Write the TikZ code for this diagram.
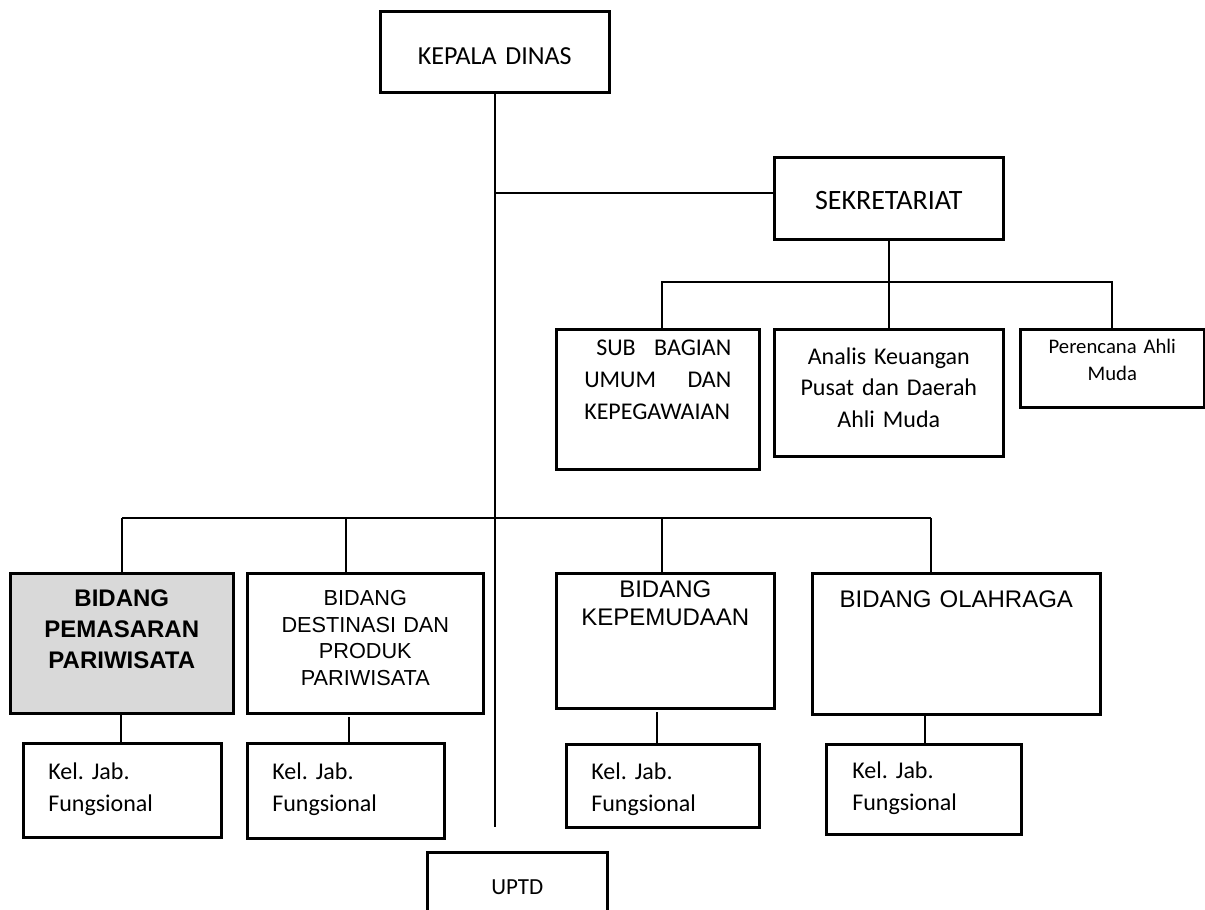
\documentclass[tikz,border=0pt]{standalone}
\usepackage{fontspec}
\setmainfont{Carlito}
\newfontfamily\arialfont{Liberation Sans}
\usepackage{tikz}
\usetikzlibrary{positioning}
\definecolor{pemgray}{HTML}{D9D9D9}
\frenchspacing

\begin{document}
\begin{tikzpicture}[x=1pt,y=-1pt,
  box/.style={draw,line width=2.6pt,anchor=north west,inner xsep=0pt,inner ysep=0pt,align=center},
  kelbox/.style={box,align=left,font=\fontsize{24}{32}\selectfont},
  cal/.style={font=\fontsize{#1}{32}\selectfont},
  ari/.style={font=\arialfont\fontsize{#1}{28}\selectfont},
  link/.style={line width=2pt}]

\clip (0,0) rectangle (1205,910);

%Kepala dinas
\node[box,cal=26,text width=229pt,text height=53.4pt,text depth=27.6pt] (kd) at (379,10) {KEPALA DINAS};

%Sekretariat
\node[box,cal=28,text width=229pt,text height=52pt,text depth=30pt] (sek) at (773,156) {SEKRETARIAT};

\node[box,cal=24,align=left,inner xsep=28pt,text width=147pt,text height=25.7pt,text depth=114.3pt] (sub) at (555,328)
  {\hspace*{12pt}SUB\hfill BAGIAN\\UMUM\hfill DAN\\KEPEGAWAIAN};
\node[box,font=\fontsize{24}{31.5}\selectfont,text width=229pt,text height=34.7pt,text depth=92.3pt] (ana) at (773,328)
  {Analis Keuangan\\Pusat dan Daerah\\Ahli Muda};
\node[box,font=\fontsize{20.7}{27}\selectfont,text width=184pt,text height=24pt,text depth=54pt] (per) at (1019,328)
  {Perencana Ahli\\Muda};

%Bidang
\node[box,fill=pemgray,font=\arialfont\bfseries\fontsize{24}{31}\selectfont,text width=223pt,text height=33.5pt,text depth=106.5pt] (pem) at (9,572)
  {BIDANG\\PEMASARAN\\PARIWISATA};
\node[box,font=\arialfont\fontsize{21.7}{26.5}\selectfont,text width=236pt,text height=32.5pt,text depth=107.5pt] (des) at (246,572)
  {BIDANG\\DESTINASI DAN\\PRODUK\\PARIWISATA};
\node[box,ari=24,text width=218pt,text height=24pt,text depth=111pt] (kep) at (555,572)
  {BIDANG\\KEPEMUDAAN};
\node[box,ari=24,text width=288pt,text height=34pt,text depth=107pt] (olah) at (811,572)
  {BIDANG OLAHRAGA};

%Kel. Jab. Fungsional
\node[kelbox,inner xsep=25pt,text width=148pt,text height=35.7pt,text depth=58.3pt] (kel1) at (22,742) {Kel. Jab.\\Fungsional};
\node[kelbox,inner xsep=25pt,text width=147pt,text height=35.7pt,text depth=59.3pt] (kel2) at (246,742) {Kel. Jab.\\Fungsional};
\node[kelbox,inner xsep=25pt,text width=143pt,text height=35.5pt,text depth=47.5pt] (kel3) at (565,743) {Kel. Jab.\\Fungsional};
\node[kelbox,inner xsep=26pt,text width=143pt,text height=33.7pt,text depth=56.3pt] (kel4) at (825,743) {Kel. Jab.\\Fungsional};

%UPTD
\node[box,cal=23,text width=180pt,text height=41.7pt,text depth=40pt] (uptd) at (426,851) {UPTD};

%garis utama
\coordinate (mainend) at (494,827);
\draw[link] (kd.south) -- (kd.south |- mainend);

\coordinate (sekin) at (494,193);
\draw[link] (sekin) -- (sekin -| sek.west);

\coordinate (sbus) at (662,282);
\draw[link] (sek.south) -- (sek.south |- sbus);
\draw[link] (sub.north -| sbus) -- (sbus) -| (per.north);
\draw[link] (ana.north) -- (ana.north |- sbus);

%bidang
\coordinate (b1) at (122,518);
\coordinate (b2) at (346,518);
\coordinate (b3) at (662,518);
\coordinate (b4) at (931,518);
\draw[link] (b1) -- (b4);
\foreach \b/\n in {b1/pem,b2/des,b3/kep,b4/olah}
  \draw[link] (\b) -- (\b |- \n.north);

\coordinate (c1) at (121,712);
\coordinate (c2) at (349,717);
\coordinate (c3) at (657,712);
\coordinate (c4) at (925,713);
\foreach \c/\n in {c1/kel1,c2/kel2,c3/kel3,c4/kel4}
  \draw[link] (\c) -- (\c |- \n.north);

\end{tikzpicture}
\end{document}
